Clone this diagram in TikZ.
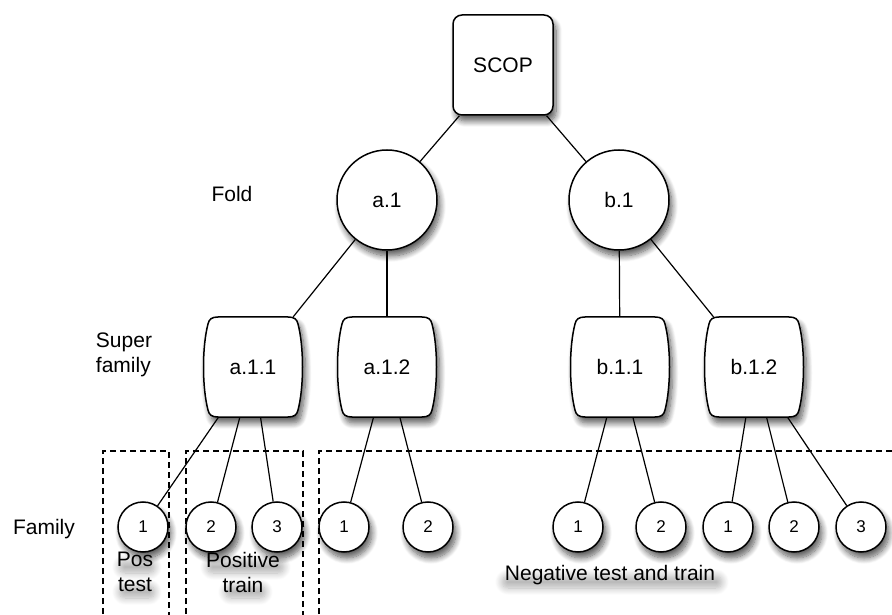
\documentclass[tikz,border=0pt]{standalone}
\usepackage{fontspec}
\setmainfont{Liberation Sans}
\usetikzlibrary{shadows.blur}

\tikzset{
  x=1pt, y=1pt,
  softshadow/.style={blur shadow={shadow xshift=3pt, shadow yshift=-6pt,
      shadow blur radius=6pt, shadow blur steps=10, shadow opacity=65}},
  texthaze/.style={blur shadow={shadow xshift=2pt, shadow yshift=-9pt,
      shadow blur radius=7pt, shadow blur steps=10, shadow opacity=30}},
  border/.style={draw=black, line width=1.5pt, fill=white},
  bigtext/.style={font=\fontsize{21}{25}\selectfont},
  rootbox/.style={border, softshadow, rectangle, rounded corners=9pt,
      minimum width=100pt, minimum height=100pt, inner sep=0pt, bigtext},
  foldnode/.style={border, softshadow, circle, minimum size=100pt,
      inner sep=0pt, bigtext},
  famnode/.style={border, softshadow, circle, minimum size=50pt,
      inner sep=0pt, font=\fontsize{17}{20}\selectfont},
  supernode/.style={rectangle, minimum width=100pt, minimum height=100pt,
      inner sep=0pt, bigtext},
  link/.style={line width=1.2pt},
  group/.style={line width=1.3pt, dash pattern=on 6pt off 4pt},
  caption/.style={bigtext, inner sep=0pt},
}

% superfamily box: straight top and bottom, sides bulging outwards
\newcommand\barrelbox[4]{%
  \draw[border, softshadow, shift={(#2,#3)}]
    (-35,50) -- (35,50)
    .. controls (41,50) and (44,48) .. (45,43)
    .. controls (51,20) and (51,-20) .. (45,-43)
    .. controls (44,-48) and (41,-50) .. (35,-50)
    -- (-35,-50)
    .. controls (-41,-50) and (-44,-48) .. (-45,-43)
    .. controls (-51,-20) and (-51,20) .. (-45,43)
    .. controls (-44,48) and (-41,50) .. (-35,50) -- cycle;
  \node[supernode] (#1) at (#2,#3) {#4};}

\begin{document}
\begin{tikzpicture}
\useasboundingbox (0,0) rectangle (892,614);

% dashed groups of families, running off the lower and right edges
\begin{scope}
  \clip (0,0) rectangle (892,614);
  \draw[group] (103,-10) rectangle (169,163);
  \draw[group] (186,-10) rectangle (303,163);
  \draw[group] (319,-10) rectangle (910,163);
\end{scope}

% soft shadows under the group captions
\path[texthaze, rounded corners=6pt] (117,50) rectangle (153,62);
\path[texthaze, rounded corners=6pt] (117,25) rectangle (153,37);
\path[texthaze, rounded corners=6pt] (205,50) rectangle (282,62);
\path[texthaze, rounded corners=6pt] (223,25) rectangle (264,37);
\path[texthaze, rounded corners=6pt] (500,35) rectangle (720,47);

% root
\node[rootbox] (scop) at (503,549) {SCOP};

% folds
\node[foldnode] (a1) at (387,414) {a.1};
\node[foldnode] (b1) at (619,414) {b.1};

% superfamilies
\barrelbox{a11}{253}{247}{a.1.1}
\barrelbox{a12}{387}{247}{a.1.2}
\barrelbox{b11}{620}{247}{b.1.1}
\barrelbox{b12}{754}{247}{b.1.2}

% families
\node[famnode] (f1) at (143,87) {1};
\node[famnode] (f2) at (211,87) {2};
\node[famnode] (f3) at (277,87) {3};
\node[famnode] (g1) at (344,87) {1};
\node[famnode] (g2) at (428,87) {2};
\node[famnode] (h1) at (578,87) {1};
\node[famnode] (h2) at (661,87) {2};
\node[famnode] (k1) at (728,87) {1};
\node[famnode] (k2) at (794,87) {2};
\node[famnode] (k3) at (861,87) {3};

% tree edges
\draw[link] (scop) -- (a1);
\draw[link] (scop) -- (b1);
\draw[link] (a1) -- (a11);
\draw[link] (a1) -- (a12);
\draw[link] (b1) -- (b11);
\draw[link] (b1) -- (b12);
\draw[link] (a11) -- (f1);
\draw[link] (a11) -- (f2);
\draw[link] (a11) -- (f3);
\draw[link] (a12) -- (g1);
\draw[link] (a12) -- (g2);
\draw[link] (b11) -- (h1);
\draw[link] (b11) -- (h2);
\draw[link] (b12) -- (k1);
\draw[link] (b12) -- (k2);
\draw[link] (b12) -- (k3);

% level names
\node[caption] (lfold) at (232,420) {Fold};
\node[caption, align=left] (lsuper) at (124,259) {Super\\family};
\node[caption] (lfam) at (44,85) {Family};

% group captions
\node[caption, align=center] (cpos) at (135,42) {Pos\\test};
\node[caption, align=center] (ctrain) at (243,42) {Positive\\train};
\node[caption] (cneg) at (610,39) {Negative test and train};
\end{tikzpicture}
\end{document}
